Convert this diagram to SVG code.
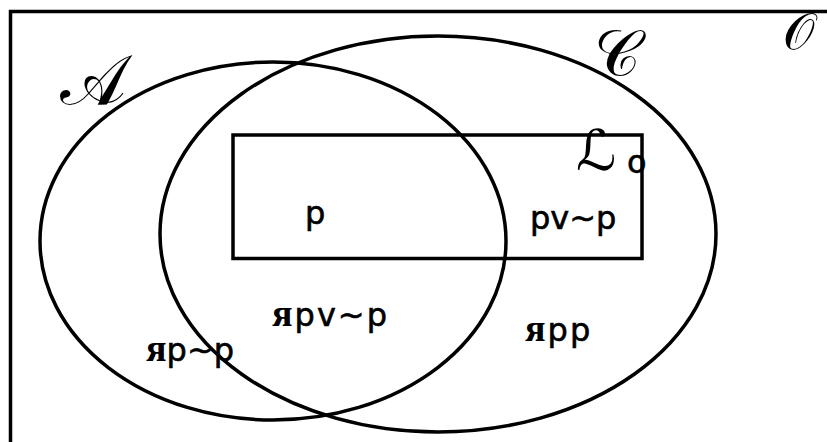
<svg xmlns="http://www.w3.org/2000/svg" width="827" height="442" viewBox="0 0 827 442">
<style>
.ln{fill:none;stroke:#000;stroke-width:3.5}
.t{font-family:"DejaVu Sans","Liberation Sans",sans-serif;font-size:32px;fill:#000;stroke:#000;stroke-width:0.6}
.ya{font-family:"Liberation Serif","DejaVu Serif",serif;font-weight:bold;font-size:38px;stroke-width:0}
.s{font-family:"DejaVu Serif","DejaVu Sans",serif;fill:#000}
</style>
<rect width="827" height="442" fill="#fff"/>
<g id="frame"><path class="ln" d="M10.5,442 V11.5 H827" stroke-width="4"/></g>
<g id="setA"><ellipse class="ln" cx="273" cy="241" rx="233" ry="179"/></g>
<g id="setC"><ellipse class="ln" cx="438" cy="234" rx="278" ry="198"/></g>
<g id="setL0"><rect class="ln" x="233" y="135" width="409" height="123.5" stroke-width="4"/></g>
<g id="labels">
<text class="s" x="60" y="104" font-size="70">𝒜</text>
<text class="s" x="594" y="75" font-size="64">𝒞</text>
<text class="s" x="783" y="49" font-size="50">𝒪</text>
<text class="s" x="576" y="170" font-size="56">ℒ</text>
<text class="t" x="627" y="173" font-size="24">o</text>
<text class="t" x="305" y="224">p</text>
<text class="t" x="530" y="229">pv~p</text>
<text class="t" x="272" y="326" letter-spacing="2"><tspan class="ya">я</tspan>pv~p</text>
<text class="t" x="146" y="361"><tspan class="ya">я</tspan>p~p</text>
<text class="t" x="525" y="341" letter-spacing="2"><tspan class="ya">я</tspan>pp</text>
</g>
</svg>
